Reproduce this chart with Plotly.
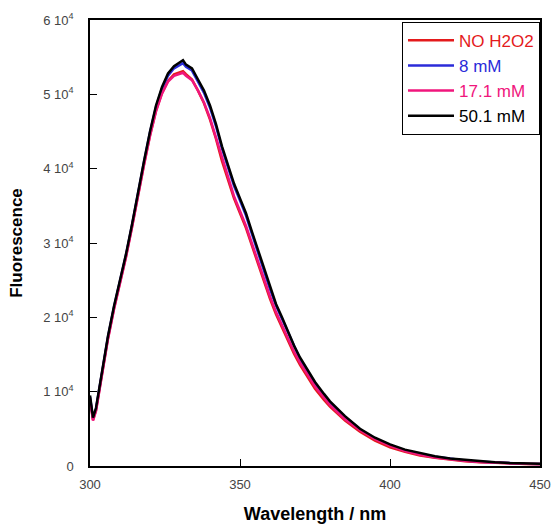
import plotly.graph_objects as go

wavelength = [300, 301, 302, 304, 306, 308, 310, 312, 314, 316, 318, 320, 322, 324, 326, 328, 330, 331, 332,
              334, 336, 338, 340, 342, 344, 346, 348, 350, 352, 354, 356, 358, 360, 362, 364, 366, 368, 370,
              372, 375, 378, 380, 385, 390, 395, 400, 405, 410, 415, 420, 425, 430, 435, 440, 445, 450]

no_h2o2 = [9000, 6200, 7500, 12300, 17200, 21200, 24700, 28200, 32200, 36600, 40600, 44500, 47800, 50200, 51800, 52700, 53000, 53100, 52700,
           52000, 50500, 48800, 46600, 44000, 41000, 38400, 36000, 34000, 32000, 29600, 27200, 24800, 22500, 20400, 18600, 16800, 15100, 13600,
           12300, 10400, 8900, 8000, 6100, 4600, 3400, 2500, 1900, 1400, 1100, 850, 650, 500, 400, 330, 280, 250]

mm8 = [9300, 6400, 7700, 12500, 17400, 21400, 24900, 28400, 32400, 36900, 40900, 44900, 48300, 50800, 52500, 53500, 54000, 54200, 53700,
       53200, 51700, 50200, 48200, 45700, 42700, 40200, 37700, 35700, 33700, 31200, 28700, 26200, 23800, 21600, 19800, 17800, 16000, 14400,
       13000, 11100, 9500, 8500, 6600, 4900, 3700, 2800, 2100, 1600, 1250, 950, 750, 580, 470, 380, 300, 280]

mm17 = [9100, 6100, 7400, 12200, 17100, 21100, 24600, 28100, 32100, 36500, 40500, 44400, 47700, 50100, 51700, 52500, 52800, 52900, 52500,
        51900, 50500, 48900, 46800, 44200, 41300, 38700, 36300, 34300, 32300, 29900, 27500, 25100, 22800, 20700, 18900, 17100, 15400, 13900,
        12600, 10700, 9200, 8200, 6300, 4800, 3600, 2700, 2000, 1500, 1150, 900, 700, 540, 430, 350, 290, 260]

mm50 = [9500, 6500, 7800, 12500, 17500, 21500, 25000, 28500, 32500, 37000, 41000, 45000, 48500, 51000, 52800, 53800, 54300, 54600, 54000,
        53500, 52000, 50500, 48500, 46000, 43000, 40500, 38000, 36000, 34000, 31500, 29000, 26500, 24000, 21800, 20000, 18000, 16200, 14600,
        13200, 11300, 9700, 8700, 6700, 5000, 3800, 2900, 2200, 1700, 1300, 1000, 800, 600, 500, 400, 330, 300]

series = [
    ("NO H2O2", no_h2o2, "#e41a1c"),
    ("8 mM", mm8, "#2b2bd9"),
    ("17.1 mM", mm17, "#f0167c"),
    ("50.1 mM", mm50, "#000000"),
]

ytick_vals = [0, 10000, 20000, 30000, 40000, 50000, 60000]
ytick_text = ["0", "1 10<sup>4</sup>", "2 10<sup>4</sup>", "3 10<sup>4</sup>", "4 10<sup>4</sup>",
              "5 10<sup>4</sup>", "6 10<sup>4</sup>"]
xtick_vals = [300, 350, 400, 450]

fig = go.Figure()
for i, (name, vals, color) in enumerate(series):
    fig.add_trace(go.Scatter(
        x=wavelength, y=vals, mode="lines",
        name=f"<span style='color:{color}'>{name}</span>",
        legendgroup=f"g{i}",
        line=dict(color=color, width=2.5),
    ))

fig.update_layout(
    width=552, height=524,
    margin=dict(l=90, r=12, t=20, b=58, autoexpand=False),
    plot_bgcolor="white", paper_bgcolor="white",
    font=dict(family="Liberation Sans, Arial, sans-serif", size=12, color="#444444"),
    showlegend=True,
    legend=dict(
        x=1, xanchor="right", y=0.996, yanchor="top",
        bgcolor="white", bordercolor="black", borderwidth=1,
        font=dict(size=17),
        tracegroupgap=0,
        itemwidth=46,
    ),
    xaxis=dict(
        range=[300, 450], tickvals=xtick_vals,
        ticks="inside", ticklen=7, tickcolor="black", tickwidth=1,
        ticklabelstandoff=6, tickfont=dict(size=13),
        showline=True, linecolor="black", linewidth=1.5, mirror=True,
        showgrid=False, zeroline=False, automargin=False,
        title=dict(text="<b>Wavelength / nm</b>", font=dict(size=18, color="black"), standoff=16),
    ),
    yaxis=dict(
        range=[0, 60000], tickvals=ytick_vals, ticktext=ytick_text,
        ticks="inside", ticklen=7, tickcolor="black", tickwidth=1,
        ticklabelstandoff=12, tickfont=dict(size=13),
        showline=True, linecolor="black", linewidth=1.5, mirror=True,
        showgrid=False, zeroline=False, automargin=False,
        title=dict(text="<b>Fluorescence</b>", font=dict(size=17, color="black"), standoff=16),
    ),
)

fig.write_html("out.html")
